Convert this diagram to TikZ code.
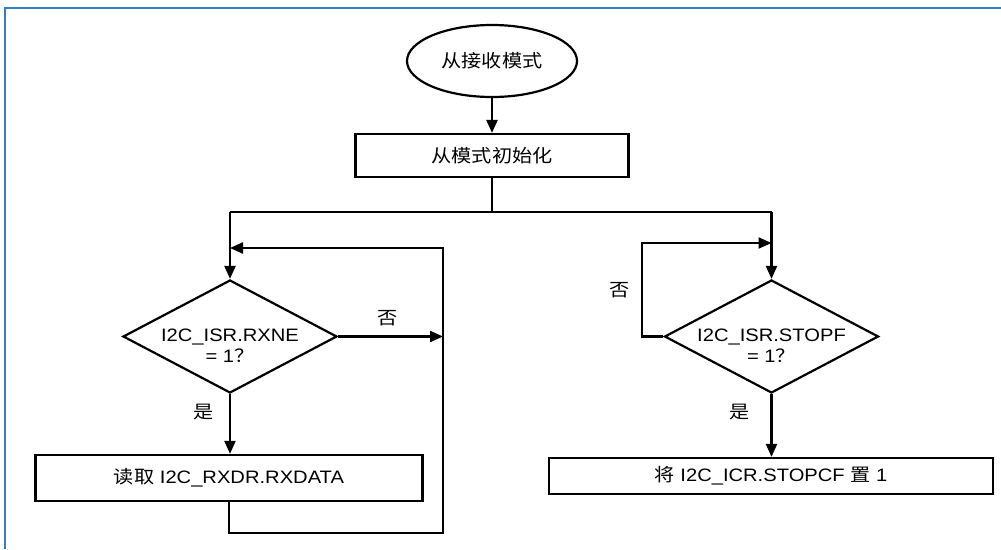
\documentclass[tikz,border=0pt]{standalone}
\usepackage{fontspec}
\setmainfont[FakeStretch=1.12]{Liberation Sans}
\newfontfamily\cjk[FakeStretch=1.12]{Noto Sans CJK SC}
\usetikzlibrary{shapes.geometric,arrows.meta}
\definecolor{frameblue}{RGB}{52,127,196}
\begin{document}
\begin{tikzpicture}[x=1pt,y=-1pt, line width=2.2pt,
  font=\fontsize{18}{21}\selectfont,
  box/.style={draw, rectangle, inner sep=0pt, line width=2.2pt},
  dia/.style={draw, diamond, inner sep=0pt, minimum width=214pt, minimum height=113pt},
  arr/.style={-{Triangle[length=13pt,width=11pt]}},
  lbl/.style={inner sep=0pt}]
\useasboundingbox (0,0) rectangle (1001,549);
\draw[frameblue, line width=2pt] (1001,8) -- (5,8) -- (5,549);

\node[draw, ellipse, minimum width=170pt, minimum height=72pt, inner sep=0pt] (start) at (492,61) {\cjk 从接收模式};
\node[box, minimum width=273pt, minimum height=43pt] (init) at (492,155.5) {\cjk 从模式初始化};
\node[dia] (d1) at (230,336.5) {};
\node[lbl, align=center, yshift=-9pt] (d1t) at (d1) {I2C\_ISR.RXNE\\= 1{\cjk ？}};
\node[box, minimum width=387pt, minimum height=46pt] (rd) at (229,478) {{\cjk 读取} I2C\_RXDR.RXDATA};
\node[dia] (d2) at (771.5,336.5) {};
\node[lbl, align=center, yshift=-9pt] (d2t) at (d2) {I2C\_ISR.STOPF\\= 1{\cjk ？}};
\node[box, minimum width=444pt, minimum height=36pt] (clr) at (771,476) {{\cjk 将} I2C\_ICR.STOPCF {\cjk 置} 1};

\coordinate (jL) at (230,212);
\coordinate (jR) at (771.5,212);
\coordinate (lb) at (443,533);
\coordinate (lt) at (443,248);
\coordinate (rl) at (642,243);

\draw[arr] (start.south) -- (init.north);
\draw (init.south) -- (init.south |- jL);
\draw (jL) -- (jR);
\draw[arr] (jL) -- (d1.north);
\draw[arr] (jR) -- (d2.north);
\draw[arr] (d1.east) -- (d1.east -| lt);
\draw[arr] (rd.south) |- (lb) -- (lt) -- (lt -| d1.north);
\draw[arr] (d1.south) -- (d1.south |- rd.north);
\draw[arr] (d2.west) -| (rl) -- (rl -| d2.north);
\draw[arr] (d2.south) -- (d2.south |- clr.north);

\node[lbl] (no1) at (388,318) {\cjk 否};
\node[lbl] (yes1) at (204,412) {\cjk 是};
\node[lbl] (no2) at (620,290) {\cjk 否};
\node[lbl] (yes2) at (740,412) {\cjk 是};
\end{tikzpicture}
\end{document}
